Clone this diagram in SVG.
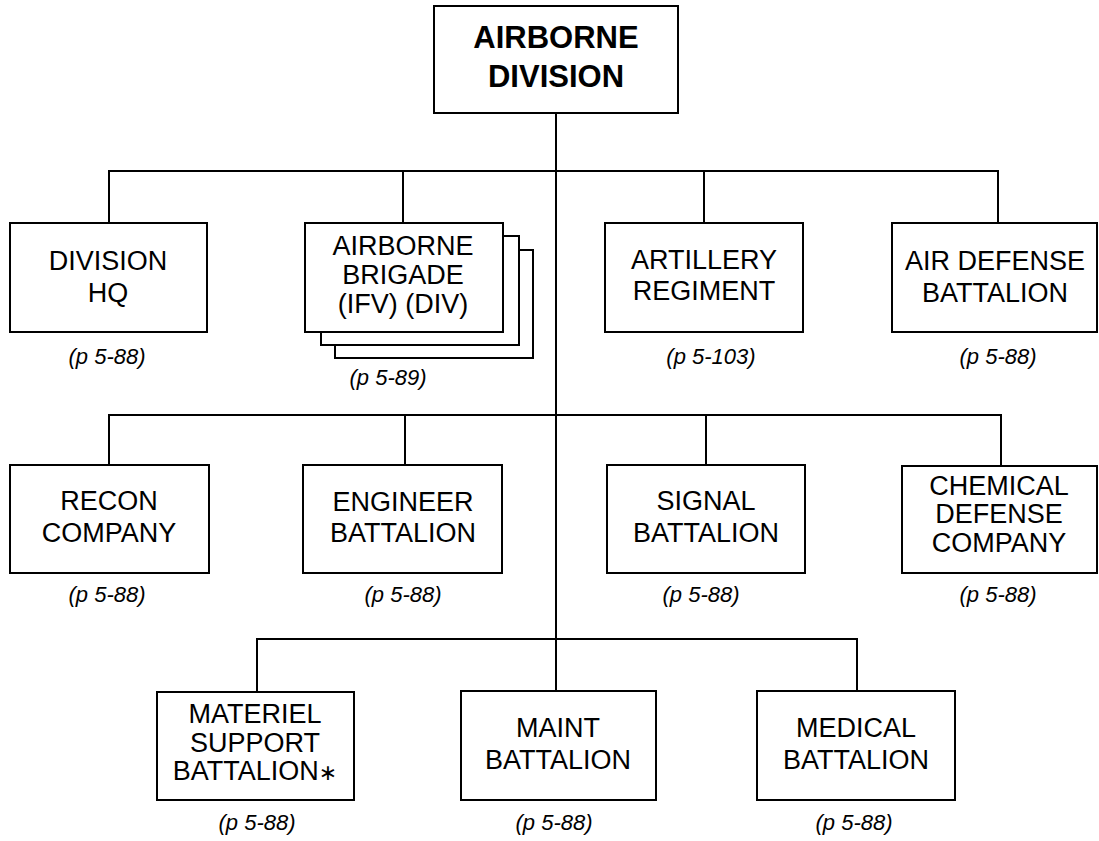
<svg xmlns="http://www.w3.org/2000/svg" width="1099" height="841" viewBox="0 0 1099 841">
<style>
.box{fill:#fff;stroke:#000;stroke-width:2}
.ln{fill:none;stroke:#000;stroke-width:2}
.t{font-family:"Liberation Sans",Arial,sans-serif;font-size:27px;text-anchor:middle;fill:#000}
.b{font-family:"Liberation Sans",Arial,sans-serif;font-size:31px;font-weight:bold;text-anchor:middle;fill:#000}
.p{font-family:"Liberation Sans",Arial,sans-serif;font-size:22px;font-style:italic;text-anchor:middle;fill:#000}
</style>
<rect width="1099" height="841" fill="#fff"/>
<g id="connectors">
<path class="ln" d="M556 113V691"/>
<path class="ln" d="M109 223V171H998V223M403 171V223M704 171V223"/>
<path class="ln" d="M109 465V415H1001V466M405 415V465M706 415V465"/>
<path class="ln" d="M257 692V639H857V691"/>
</g>
<g id="airborne-division">
<rect class="box" x="434" y="6" width="244" height="107"/>
<text class="b" x="556" y="48">AIRBORNE</text>
<text class="b" x="556" y="87">DIVISION</text>
</g>
<g id="division-hq">
<rect class="box" x="10" y="223" width="197" height="109"/>
<text class="t" x="108" y="270">DIVISION</text>
<text class="t" x="108" y="302">HQ</text>
<text class="p" x="107" y="364">(p 5-88)</text>
</g>
<g id="airborne-brigade">
<rect class="box" x="335" y="250" width="198" height="108"/>
<rect class="box" x="321" y="236" width="198" height="109"/>
<rect class="box" x="305" y="223" width="198" height="109"/>
<text class="t" x="403" y="255">AIRBORNE</text>
<text class="t" x="403" y="284">BRIGADE</text>
<text class="t" x="403" y="313">(IFV) (DIV)</text>
<text class="p" x="388" y="385">(p 5-89)</text>
</g>
<g id="artillery-regiment">
<rect class="box" x="605" y="223" width="198" height="109"/>
<text class="t" x="704" y="269">ARTILLERY</text>
<text class="t" x="704" y="300">REGIMENT</text>
<text class="p" x="711" y="364">(p 5-103)</text>
</g>
<g id="air-defense-battalion">
<rect class="box" x="892" y="223" width="205" height="109"/>
<text class="t" x="995" y="270">AIR DEFENSE</text>
<text class="t" x="995" y="302">BATTALION</text>
<text class="p" x="998" y="364">(p 5-88)</text>
</g>
<g id="recon-company">
<rect class="box" x="10" y="465" width="199" height="108"/>
<text class="t" x="109" y="510">RECON</text>
<text class="t" x="109" y="542">COMPANY</text>
<text class="p" x="107" y="602">(p 5-88)</text>
</g>
<g id="engineer-battalion">
<rect class="box" x="303" y="465" width="199" height="108"/>
<text class="t" x="403" y="511">ENGINEER</text>
<text class="t" x="403" y="542">BATTALION</text>
<text class="p" x="403" y="602">(p 5-88)</text>
</g>
<g id="signal-battalion">
<rect class="box" x="607" y="465" width="198" height="108"/>
<text class="t" x="706" y="510">SIGNAL</text>
<text class="t" x="706" y="542">BATTALION</text>
<text class="p" x="701" y="602">(p 5-88)</text>
</g>
<g id="chemical-defense-company">
<rect class="box" x="902" y="466" width="195" height="107"/>
<text class="t" x="999" y="495">CHEMICAL</text>
<text class="t" x="999" y="523">DEFENSE</text>
<text class="t" x="999" y="552">COMPANY</text>
<text class="p" x="998" y="602">(p 5-88)</text>
</g>
<g id="materiel-support-battalion">
<rect class="box" x="157" y="692" width="197" height="108"/>
<text class="t" x="255" y="723">MATERIEL</text>
<text class="t" x="255" y="752">SUPPORT</text>
<text class="t" x="255" y="780">BATTALION<tspan font-family="DejaVu Sans,sans-serif" font-size="22">∗</tspan></text>
<text class="p" x="257" y="830">(p 5-88)</text>
</g>
<g id="maint-battalion">
<rect class="box" x="461" y="691" width="195" height="109"/>
<text class="t" x="558" y="737">MAINT</text>
<text class="t" x="558" y="769">BATTALION</text>
<text class="p" x="554" y="830">(p 5-88)</text>
</g>
<g id="medical-battalion">
<rect class="box" x="757" y="691" width="198" height="109"/>
<text class="t" x="856" y="737">MEDICAL</text>
<text class="t" x="856" y="769">BATTALION</text>
<text class="p" x="854" y="830">(p 5-88)</text>
</g>
</svg>
